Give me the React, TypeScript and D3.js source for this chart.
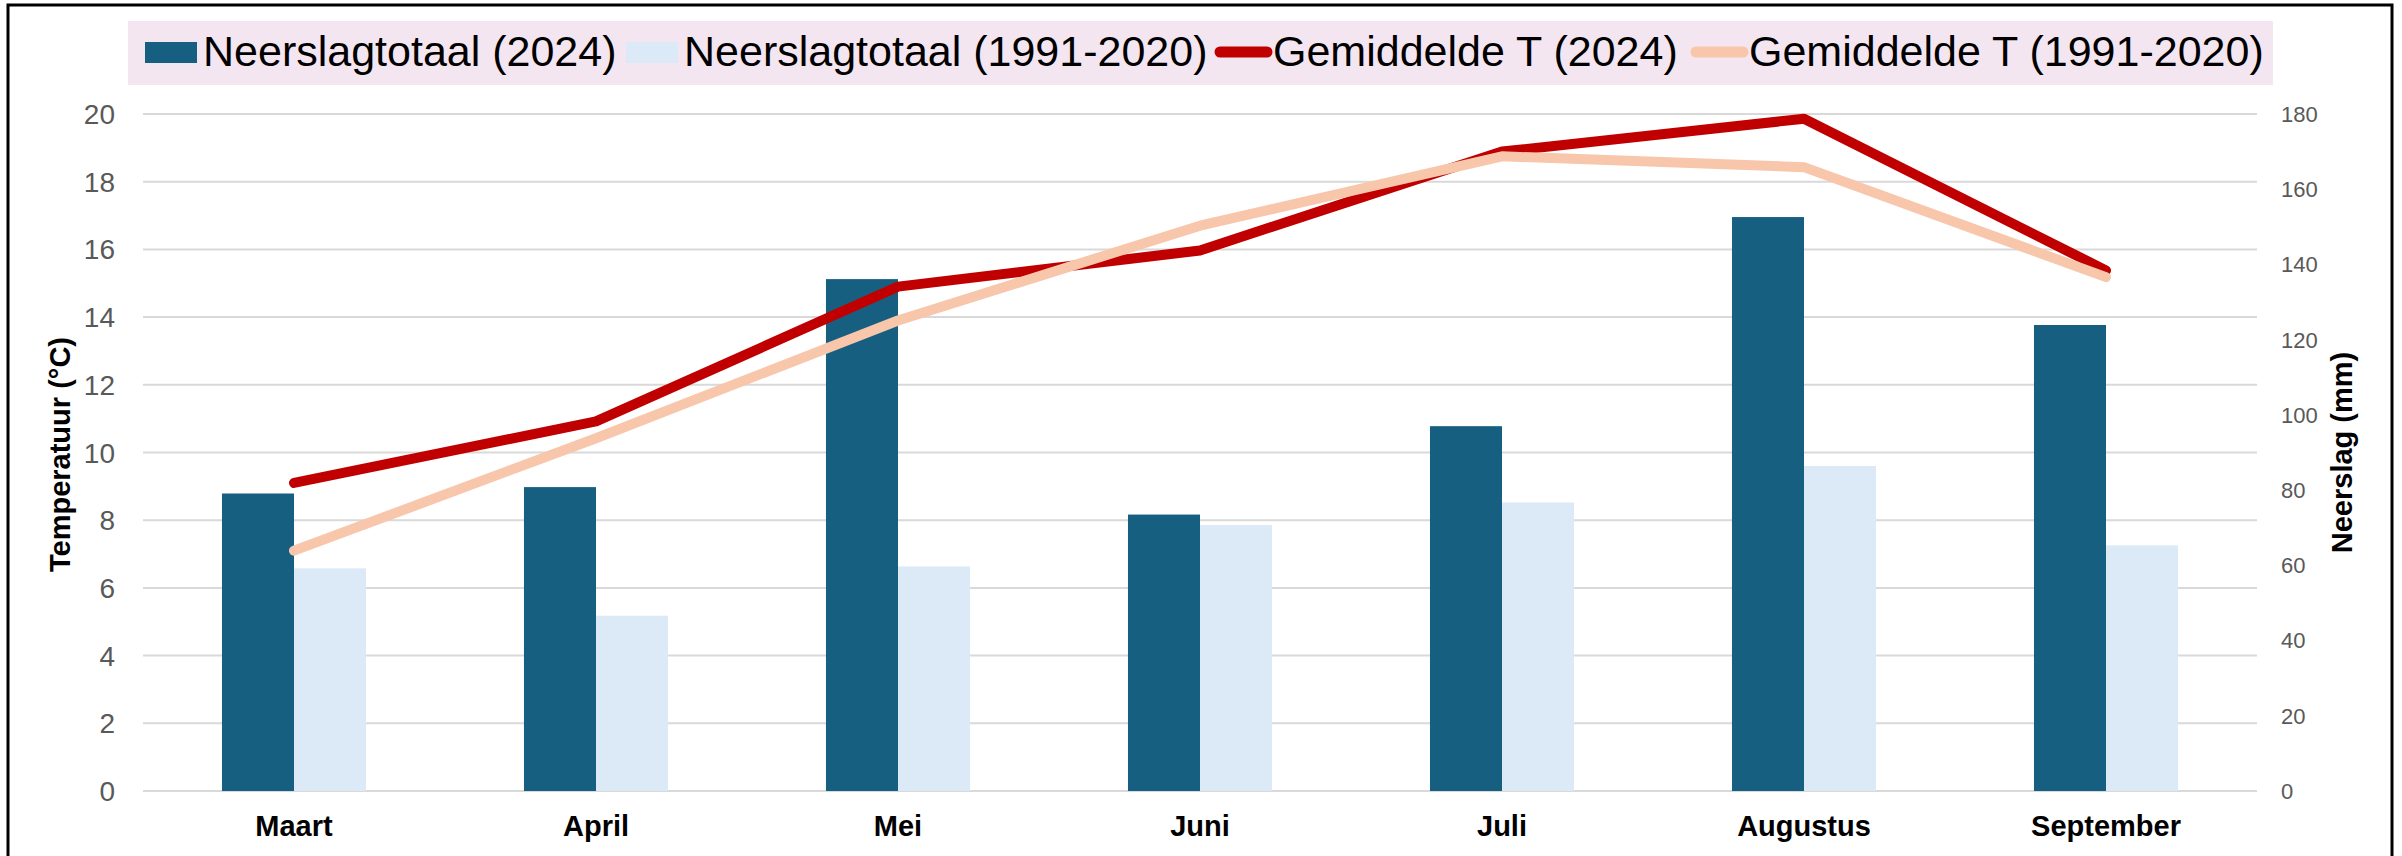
import React from 'react';
import * as d3 from 'd3';

// maanden en waarden
const months = ['Maart', 'April', 'Mei', 'Juni', 'Juli', 'Augustus', 'September'];
const rain2024 = [79.1, 80.8, 136.1, 73.5, 97.0, 152.6, 123.9];
const rainNormal = [59.2, 46.6, 59.7, 70.7, 76.7, 86.4, 65.3];
const temp2024 = [9.1, 10.92, 14.9, 15.97, 18.89, 19.86, 15.38];
const tempNormal = [7.1, 10.42, 13.9, 16.7, 18.75, 18.43, 15.18];
const tempTicks = [0, 2, 4, 6, 8, 10, 12, 14, 16, 18, 20];
const rainTicks = [0, 20, 40, 60, 80, 100, 120, 140, 160, 180];

const legendItems = [
  { label: 'Neerslagtotaal (2024)', kind: 'bar', color: '#175F80', x: 145 },
  { label: 'Neerslagtotaal (1991-2020)', kind: 'bar', color: '#DCE9F6', x: 626 },
  { label: 'Gemiddelde T (2024)', kind: 'line', color: '#C00000', x: 1215 },
  { label: 'Gemiddelde T (1991-2020)', kind: 'line', color: '#F7C6AB', x: 1691 },
];

const W = 2402;
const H = 856;
const left = 143, right = 2257, top = 114, bottom = 791;

export default function App() {
  const x = d3.scaleBand<string>()
    .domain(months)
    .range([left, right])
    .paddingInner(0.523)
    .paddingOuter(0.2615);
  const xSub = d3.scaleBand<string>()
    .domain(['2024', 'normal'])
    .range([0, x.bandwidth()]);

  const yT = d3.scaleLinear().domain([0, 20]).range([bottom, top]);
  const yR = d3.scaleLinear().domain([0, 180]).range([bottom, top]);

  const line = d3.line<number>()
    .x((_, i) => (x(months[i]) as number) + x.bandwidth() / 2)
    .y(d => yT(d));

  const font = "'Liberation Sans', Arial, sans-serif";

  return (
    <svg width={W} height={H} style={{ position: 'absolute', left: 0, top: 0, background: '#fff' }}
      fontFamily={font}>
      <rect x={0} y={0} width={W} height={H} fill="#fff" />
      <rect x={8} y={5} width={2384} height={900} fill="none" stroke="#000" strokeWidth={3} />

      {/* legenda */}
      <rect x={128} y={21} width={2145} height={64} fill="#F4E6F1" />
      {legendItems.map(item => (
        <g key={item.label}>
          {item.kind === 'bar' ? (
            <rect x={item.x} y={42} width={52} height={21} fill={item.color} />
          ) : (
            <line x1={item.x + 5} x2={item.x + 52} y1={52} y2={52} stroke={item.color}
              strokeWidth={11} strokeLinecap="round" />
          )}
          <text x={item.x + 58} y={66} fontSize={43} fill="#000">{item.label}</text>
        </g>
      ))}

      {/* rasterlijnen */}
      {tempTicks.map(t => (
        <line key={t} x1={left} x2={right} y1={yT(t)} y2={yT(t)} stroke="#D9D9D9" strokeWidth={2} />
      ))}

      {/* staven */}
      {months.map((m, i) => (
        <g key={m} transform={`translate(${x(m)},0)`}>
          <rect x={xSub('2024')} y={yR(rain2024[i])} width={xSub.bandwidth()}
            height={bottom - yR(rain2024[i])} fill="#175F80" />
          <rect x={xSub('normal')} y={yR(rainNormal[i])} width={xSub.bandwidth()}
            height={bottom - yR(rainNormal[i])} fill="#DCE9F6" />
        </g>
      ))}

      {/* lijnen */}
      <path d={line(temp2024) || ''} fill="none" stroke="#C00000" strokeWidth={10}
        strokeLinecap="round" strokeLinejoin="round" />
      <path d={line(tempNormal) || ''} fill="none" stroke="#F7C6AB" strokeWidth={10}
        strokeLinecap="round" strokeLinejoin="round" />

      {/* linker as */}
      {tempTicks.map(t => (
        <text key={t} x={115} y={yT(t)} dy="0.36em" textAnchor="end" fontSize={28} fill="#595959">{t}</text>
      ))}
      {/* rechter as */}
      {rainTicks.map(t => (
        <text key={t} x={2281} y={yR(t)} dy="0.36em" fontSize={22} fill="#595959">{t}</text>
      ))}

      {/* maandlabels */}
      {months.map(m => (
        <text key={m} x={(x(m) as number) + x.bandwidth() / 2} y={836} textAnchor="middle"
          fontSize={29} fontWeight="bold" fill="#000">{m}</text>
      ))}

      {/* astitels */}
      <text transform={`translate(70,${(top + bottom) / 2 + 2}) rotate(-90)`} textAnchor="middle"
        fontSize={29} fontWeight="bold" fill="#000">Temperatuur (°C)</text>
      <text transform={`translate(2352,${(top + bottom) / 2}) rotate(-90)`} textAnchor="middle"
        fontSize={29} fontWeight="bold" fill="#000">Neerslag (mm)</text>
    </svg>
  );
}
